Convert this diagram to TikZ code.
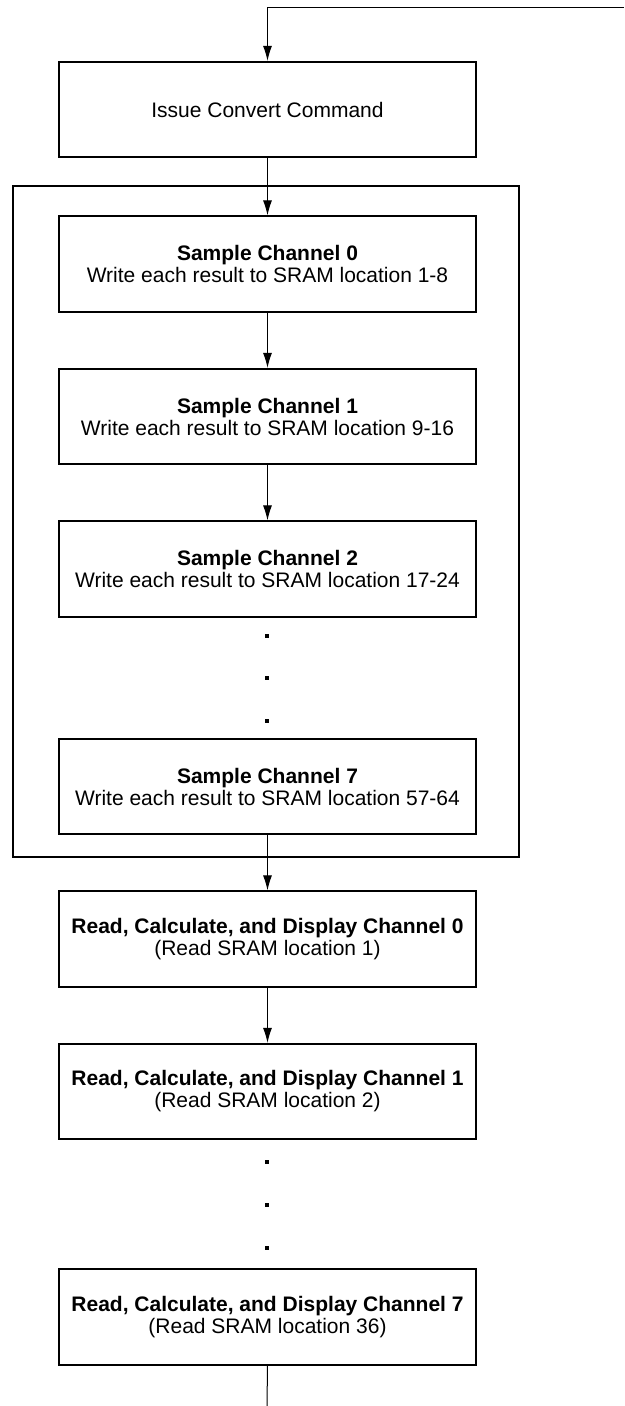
\documentclass[tikz,border=0pt]{standalone}
\usepackage{fontspec}
\setmainfont{Liberation Sans}
\usetikzlibrary{arrows.meta}

\begin{document}
\begin{tikzpicture}[x=1pt,y=-1pt,
  box/.style={draw,line width=1.7pt,minimum width=417pt,minimum height=95.5pt,inner sep=0pt,align=center,font=\fontsize{21}{22}\selectfont},
  flow/.style={line width=1pt,-{Latex[length=15pt,width=9pt]}},
  dot/.style={fill=black,inner sep=0pt,minimum size=3.2pt}]
\useasboundingbox (0,0) rectangle (624,1406);
\node[draw,line width=1.7pt,minimum width=506pt,minimum height=671pt] (group) at (266,521.5) {};
\node[box] (issue) at (267.5,109.5) {Issue Convert Command};
\node[box] (s0) at (267.5,264) {\textbf{Sample Channel 0}\\Write each result to SRAM location 1-8};
\node[box] (s1) at (267.5,416.5) {\textbf{Sample Channel 1}\\Write each result to SRAM location 9-16};
\node[box] (s2) at (267.5,569) {\textbf{Sample Channel 2}\\Write each result to SRAM location 17-24};
\node[dot] (d1) at (267,636) {};
\node[dot] (d2) at (267,678) {};
\node[dot] (d3) at (267,721) {};
\node[box] (s7) at (267.5,786.5) {\textbf{Sample Channel 7}\\Write each result to SRAM location 57-64};
\node[box] (rd0) at (267.5,939) {\textbf{Read, Calculate, and Display Channel 0}\\(Read SRAM location 1)};
\node[box] (rd1) at (267.5,1091.5) {\textbf{Read, Calculate, and Display Channel 1}\\(Read SRAM location 2)};
\node[dot] (d4) at (267,1162) {};
\node[dot] (d5) at (267,1205) {};
\node[dot] (d6) at (267,1248) {};
\node[box] (rd7) at (267.5,1317) {\textbf{Read, Calculate, and Display Channel 7}\\(Read SRAM location 36)};
\coordinate (back) at (624,7);
\coordinate (out) at (267,1406);
\draw[flow] (back) -- (back -| issue.north) -- (issue.north);
\draw[flow] (issue.south) -- (s0.north);
\draw[flow] (s0.south) -- (s1.north);
\draw[flow] (s1.south) -- (s2.north);
\draw[flow] (s7.south) -- (rd0.north);
\draw[flow] (rd0.south) -- (rd1.north);
\draw[line width=1pt] (rd7.south) -- (out);
\end{tikzpicture}
\end{document}
